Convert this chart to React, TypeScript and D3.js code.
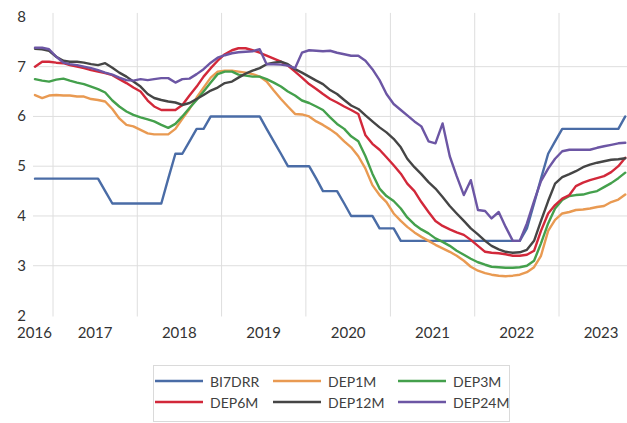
import React from "react";
import * as d3 from "d3";

// Monthly observations, October 2016 through October 2023 (mid-month)
const startYear = 2016;
const startMonth = 9; // October (0-based)

const bi7drr = [
  4.75, 4.75, 4.75, 4.75, 4.75, 4.75, 4.75, 4.75, 4.75, 4.75,
  4.5, 4.25, 4.25, 4.25, 4.25, 4.25, 4.25, 4.25, 4.25, 4.75,
  5.25, 5.25, 5.5, 5.75, 5.75, 6.0, 6.0, 6.0, 6.0, 6.0,
  6.0, 6.0, 6.0, 5.75, 5.5, 5.25, 5.0, 5.0, 5.0, 5.0,
  4.75, 4.5, 4.5, 4.5, 4.25, 4.0, 4.0, 4.0, 4.0, 3.75,
  3.75, 3.75, 3.5, 3.5, 3.5, 3.5, 3.5, 3.5, 3.5, 3.5,
  3.5, 3.5, 3.5, 3.5, 3.5, 3.5, 3.5, 3.5, 3.5, 3.5,
  3.75, 4.25, 4.75, 5.25, 5.5, 5.75, 5.75, 5.75, 5.75, 5.75,
  5.75, 5.75, 5.75, 5.75, 6.0,
];

const dep1m = [
  6.43, 6.37, 6.42, 6.43, 6.42, 6.42, 6.4, 6.4, 6.35, 6.33,
  6.3, 6.15, 5.96, 5.83, 5.8, 5.73, 5.66, 5.64, 5.64, 5.64,
  5.75, 5.95, 6.15, 6.38, 6.58, 6.78, 6.9, 6.92, 6.92, 6.9,
  6.88, 6.85, 6.8, 6.7, 6.52, 6.35, 6.2, 6.05, 6.04, 6.0,
  5.9, 5.83, 5.74, 5.64, 5.5, 5.38, 5.2, 4.95, 4.62, 4.42,
  4.28, 4.05, 3.9, 3.78, 3.67, 3.58, 3.5, 3.42, 3.35, 3.28,
  3.2, 3.1, 2.98, 2.9, 2.85, 2.82, 2.8, 2.79, 2.8, 2.82,
  2.87, 2.97, 3.2, 3.7, 3.92, 4.05, 4.08, 4.12, 4.13, 4.15,
  4.18, 4.2, 4.28, 4.33, 4.43,
];

const dep3m = [
  6.75, 6.72, 6.7, 6.74, 6.76, 6.72, 6.68, 6.65, 6.6, 6.55,
  6.48, 6.32, 6.2, 6.1, 6.03, 5.98, 5.94, 5.9, 5.83, 5.77,
  5.85, 6.0, 6.17, 6.33, 6.5, 6.68, 6.85, 6.9, 6.9, 6.84,
  6.82, 6.8, 6.8, 6.75, 6.68, 6.6, 6.5, 6.42, 6.32, 6.27,
  6.2, 6.13, 5.98, 5.85, 5.75, 5.6, 5.5, 5.2, 4.85, 4.55,
  4.4, 4.3, 4.15, 3.97, 3.83, 3.73, 3.65, 3.55, 3.48, 3.4,
  3.3, 3.22, 3.14, 3.07, 3.02, 2.98, 2.97, 2.96, 2.96, 2.97,
  3.0, 3.1, 3.45, 3.85, 4.15, 4.32, 4.4, 4.42, 4.43, 4.47,
  4.5, 4.58, 4.66, 4.76, 4.87,
];

const dep6m = [
  7.0, 7.1, 7.1, 7.08, 7.07, 7.03, 7.0, 6.97, 6.93, 6.9,
  6.87, 6.83, 6.75, 6.67, 6.58, 6.5, 6.32, 6.2, 6.13, 6.13,
  6.13, 6.23, 6.42, 6.6, 6.8, 6.97, 7.12, 7.25, 7.33, 7.37,
  7.37, 7.33, 7.28, 7.22, 7.16, 7.1, 7.02, 6.9, 6.78, 6.65,
  6.55, 6.45, 6.35, 6.28, 6.2, 6.13, 6.05, 5.62, 5.45, 5.33,
  5.18, 5.02, 4.85, 4.65, 4.5, 4.28, 4.08, 3.9, 3.8, 3.73,
  3.67, 3.62, 3.52, 3.4, 3.28, 3.26, 3.25, 3.23, 3.2, 3.2,
  3.22, 3.3, 3.7, 4.05, 4.22, 4.35, 4.42, 4.6, 4.67, 4.72,
  4.76, 4.8, 4.88, 5.0, 5.17,
];

const dep12m = [
  7.36, 7.35, 7.32, 7.2, 7.12, 7.1, 7.1, 7.08, 7.05, 7.03,
  7.07, 6.98, 6.88, 6.8, 6.7, 6.6, 6.45, 6.37, 6.33, 6.3,
  6.28, 6.23, 6.27, 6.35, 6.43, 6.52, 6.58, 6.67, 6.7, 6.78,
  6.86, 6.92, 6.97, 7.05, 7.08, 7.1, 7.05, 6.95, 6.88, 6.8,
  6.72, 6.65, 6.53, 6.45, 6.33, 6.22, 6.15, 6.02, 5.9, 5.78,
  5.68, 5.55, 5.38, 5.15, 4.98, 4.84, 4.68, 4.55, 4.38, 4.2,
  4.05, 3.9, 3.75, 3.63, 3.5, 3.4, 3.33, 3.28, 3.26, 3.27,
  3.32, 3.5, 3.9, 4.3, 4.65, 4.78, 4.84, 4.9, 4.98, 5.03,
  5.07, 5.1, 5.13, 5.14, 5.16,
];

const dep24m = [
  7.38, 7.38, 7.35, 7.2, 7.08, 7.05, 7.03, 7.0, 6.97, 6.93,
  6.88, 6.84, 6.78, 6.73, 6.72, 6.75, 6.73, 6.75, 6.77, 6.77,
  6.68, 6.75, 6.76, 6.85, 6.95, 7.08, 7.18, 7.23, 7.27, 7.29,
  7.3, 7.31, 7.35, 7.05, 7.05, 7.04, 7.02, 6.97, 7.28, 7.33,
  7.32, 7.31, 7.32, 7.28, 7.25, 7.22, 7.22, 7.12, 6.95, 6.73,
  6.45, 6.25, 6.13, 6.02, 5.9, 5.8, 5.5, 5.46, 5.86, 5.2,
  4.8, 4.42, 4.72, 4.12, 4.1, 3.95, 4.08, 3.78, 3.5, 3.5,
  3.85, 4.3, 4.7, 4.95, 5.15, 5.3, 5.33, 5.33, 5.33, 5.33,
  5.37, 5.4, 5.43, 5.46, 5.47,
];

const seriesNames = ["BI7DRR", "DEP1M", "DEP3M", "DEP6M", "DEP12M", "DEP24M"];
const seriesValues = [bi7drr, dep1m, dep3m, dep6m, dep12m, dep24m];
const seriesColors = ["#4a6ca6", "#e99a52", "#44a04c", "#d2283a", "#454545", "#6c56a4"];

const yTicks = [2, 3, 4, 5, 6, 7, 8];
const gridValues = [3, 4, 5, 6, 7];
const yearLabels = [2016, 2017, 2018, 2019, 2020, 2021, 2022, 2023];

const W = 627;
const H = 423;
const FONT = "Lato, 'Open Sans', sans-serif";

export default function App() {
  const x = d3
    .scaleTime()
    .domain([new Date(2017, 0, 1), new Date(2023, 0, 1)])
    .range([53, 559]);
  const y = d3.scaleLinear().domain([2, 8]).range([315.5, 16.9]);

  const chartLeft = 16;
  const gridLeft = 33;

  const dates = bi7drr.map((_, i) => new Date(startYear, startMonth + i, 15));

  const line = d3
    .line<number>()
    .x((_, i) => x(dates[i]))
    .y((v) => y(v));

  const yearStarts = yearLabels.slice(1).map((yr) => new Date(yr, 0, 1));

  const labelX = (yr: number) =>
    yr === yearLabels[0]
      ? (chartLeft + x(new Date(yr + 1, 0, 1))) / 2
      : x(new Date(yr, 6, 2));

  // legend layout: three columns, two rows
  const legendCols = [155, 273, 398];
  const legendRows = [381, 402];

  return (
    <svg
      width={W}
      height={H}
      style={{ position: "absolute", left: 0, top: 0, background: "#fff" }}
      fontFamily={FONT}
    >
      <rect x={0} y={0} width={W} height={H} fill="#fff" />

      {/* vertical gridlines at each new year */}
      {yearStarts.map((d) => (
        <line
          key={d.getFullYear()}
          x1={x(d)}
          x2={x(d)}
          y1={y(8) - 4}
          y2={y(2) + 1}
          stroke="#dedede"
          strokeWidth={1}
        />
      ))}

      {/* horizontal gridlines */}
      {gridValues.map((v) => (
        <line
          key={v}
          x1={gridLeft}
          x2={W}
          y1={y(v)}
          y2={y(v)}
          stroke="#dedede"
          strokeWidth={1}
        />
      ))}

      {/* y tick labels */}
      {yTicks.map((v) => (
        <text
          key={v}
          x={26}
          y={y(v) - 1}
          textAnchor="end"
          dominantBaseline="central"
          fontSize={15}
          fill="#333"
        >
          {v}
        </text>
      ))}

      {/* year labels */}
      {yearLabels.map((yr) => (
        <text
          key={yr}
          x={labelX(yr)}
          y={338}
          textAnchor="middle"
          fontSize={15}
          fill="#333"
        >
          {yr}
        </text>
      ))}

      {/* series */}
      {seriesValues.map((vals, i) => (
        <path
          key={seriesNames[i]}
          d={line(vals) || ""}
          fill="none"
          stroke={seriesColors[i]}
          strokeWidth={2.4}
          strokeLinejoin="round"
          strokeLinecap="round"
        />
      ))}

      {/* legend */}
      <rect x={153.5} y={365.5} width={356} height={56} fill="#fff" stroke="#dadada" />
      {seriesNames.map((name, i) => {
        const cx = legendCols[i % 3];
        const cy = legendRows[Math.floor(i / 3)];
        return (
          <g key={name}>
            <line x1={cx} x2={cx + 48} y1={cy} y2={cy} stroke={seriesColors[i]} strokeWidth={2.4} />
            <text
              x={cx + 55}
              y={cy}
              dominantBaseline="central"
              fontSize={14}
              fill="#404040"
            >
              {name}
            </text>
          </g>
        );
      })}
    </svg>
  );
}
